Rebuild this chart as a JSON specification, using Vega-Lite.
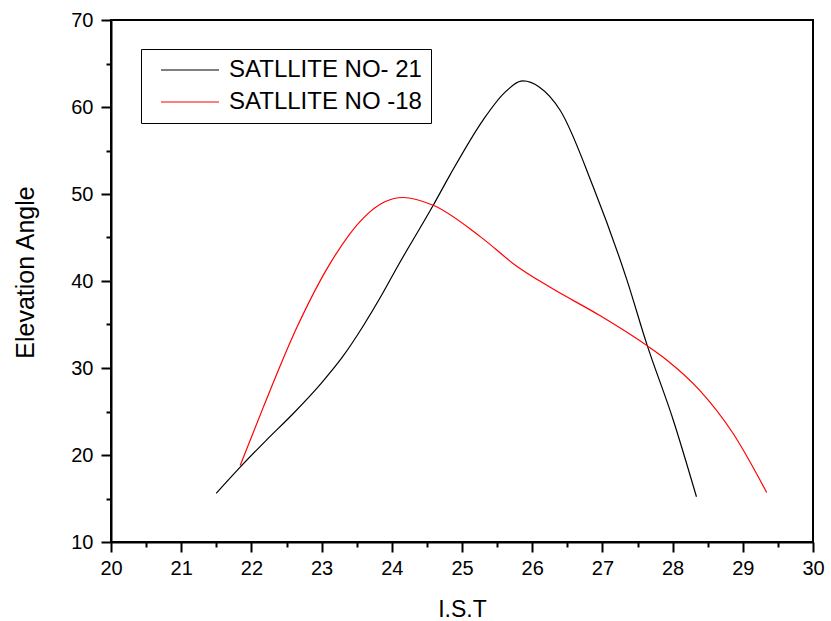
{
  "$schema": "https://vega.github.io/schema/vega-lite/v6.json",
  "width": 702,
  "height": 522,
  "autosize": {"type": "none"},
  "padding": {"left": 111, "top": 20, "right": 18, "bottom": 79},
  "background": "white",
  "config": {
    "font": "Liberation Sans",
    "view": {"stroke": "black", "strokeWidth": 2},
    "axis": {
      "grid": false,
      "labelFlush": false,
      "domainColor": "black",
      "domainWidth": 2,
      "tickColor": "black",
      "tickWidth": 2,
      "labelColor": "black",
      "titleColor": "black",
      "labelFont": "Liberation Sans",
      "titleFont": "Liberation Sans",
      "labelFontSize": 20,
      "titleFontSize": 23,
      "titleFontWeight": "normal"
    }
  },
  "data": {
    "values": [
      {"ist": 21.5, "elev": 15.6, "sat": "SATLLITE NO- 21"},
      {"ist": 21.84, "elev": 18.6, "sat": "SATLLITE NO- 21"},
      {"ist": 22.2, "elev": 21.6, "sat": "SATLLITE NO- 21"},
      {"ist": 22.6, "elev": 24.8, "sat": "SATLLITE NO- 21"},
      {"ist": 23.0, "elev": 28.3, "sat": "SATLLITE NO- 21"},
      {"ist": 23.3, "elev": 31.3, "sat": "SATLLITE NO- 21"},
      {"ist": 23.59, "elev": 34.8, "sat": "SATLLITE NO- 21"},
      {"ist": 23.85, "elev": 38.3, "sat": "SATLLITE NO- 21"},
      {"ist": 24.07, "elev": 41.5, "sat": "SATLLITE NO- 21"},
      {"ist": 24.59, "elev": 48.7, "sat": "SATLLITE NO- 21"},
      {"ist": 24.83, "elev": 52.2, "sat": "SATLLITE NO- 21"},
      {"ist": 25.3, "elev": 58.5, "sat": "SATLLITE NO- 21"},
      {"ist": 25.6, "elev": 61.6, "sat": "SATLLITE NO- 21"},
      {"ist": 25.87, "elev": 63.0, "sat": "SATLLITE NO- 21"},
      {"ist": 26.1, "elev": 62.3, "sat": "SATLLITE NO- 21"},
      {"ist": 26.4, "elev": 59.6, "sat": "SATLLITE NO- 21"},
      {"ist": 26.87, "elev": 50.8, "sat": "SATLLITE NO- 21"},
      {"ist": 27.35, "elev": 40.1, "sat": "SATLLITE NO- 21"},
      {"ist": 27.63, "elev": 32.8, "sat": "SATLLITE NO- 21"},
      {"ist": 28.01, "elev": 24.0, "sat": "SATLLITE NO- 21"},
      {"ist": 28.34, "elev": 15.2, "sat": "SATLLITE NO- 21"},
      {"ist": 21.84, "elev": 18.8, "sat": "SATLLITE NO -18"},
      {"ist": 22.17, "elev": 25.5, "sat": "SATLLITE NO -18"},
      {"ist": 22.65, "elev": 34.7, "sat": "SATLLITE NO -18"},
      {"ist": 23.12, "elev": 42.0, "sat": "SATLLITE NO -18"},
      {"ist": 23.59, "elev": 47.2, "sat": "SATLLITE NO -18"},
      {"ist": 23.9, "elev": 49.1, "sat": "SATLLITE NO -18"},
      {"ist": 24.16, "elev": 49.6, "sat": "SATLLITE NO -18"},
      {"ist": 24.59, "elev": 48.7, "sat": "SATLLITE NO -18"},
      {"ist": 25.26, "elev": 45.1, "sat": "SATLLITE NO -18"},
      {"ist": 25.78, "elev": 41.7, "sat": "SATLLITE NO -18"},
      {"ist": 26.25, "elev": 39.3, "sat": "SATLLITE NO -18"},
      {"ist": 26.97, "elev": 36.0, "sat": "SATLLITE NO -18"},
      {"ist": 27.63, "elev": 32.6, "sat": "SATLLITE NO -18"},
      {"ist": 27.92, "elev": 30.9, "sat": "SATLLITE NO -18"},
      {"ist": 28.39, "elev": 27.4, "sat": "SATLLITE NO -18"},
      {"ist": 28.86, "elev": 22.5, "sat": "SATLLITE NO -18"},
      {"ist": 29.34, "elev": 15.7, "sat": "SATLLITE NO -18"}
    ]
  },
  "layer": [
    {
      "mark": {"type": "line", "interpolate": "monotone", "strokeWidth": 1.2},
      "encoding": {
        "x": {
          "field": "ist", "type": "quantitative",
          "scale": {"domain": [20, 30], "nice": false, "zero": false},
          "axis": {
            "orient": "bottom",
            "values": [20, 21, 22, 23, 24, 25, 26, 27, 28, 29, 30],
            "tickSize": 10,
            "labelPadding": 6,
            "title": "I.S.T",
            "titlePadding": 20
          }
        },
        "y": {
          "field": "elev", "type": "quantitative",
          "scale": {"domain": [10, 70], "nice": false, "zero": false},
          "axis": {
            "orient": "left",
            "values": [10, 20, 30, 40, 50, 60, 70],
            "tickSize": 10,
            "labelPadding": 8,
            "title": "Elevation Angle",
            "titleFontSize": 25,
            "titleY": 252,
            "titlePadding": 32
          }
        },
        "color": {
          "field": "sat", "type": "nominal",
          "scale": {"domain": ["SATLLITE NO- 21", "SATLLITE NO -18"], "range": ["black", "red"]},
          "legend": {
            "title": null,
            "orient": "none",
            "legendX": 30,
            "legendY": 29,
            "strokeColor": "black",
            "fillColor": "white",
            "padding": 9,
            "symbolOffset": 10,
            "symbolType": "stroke",
            "symbolSize": 3364,
            "symbolStrokeWidth": 1.2,
            "clipHeight": 24,
            "labelFontSize": 24,
            "labelFont": "Liberation Sans",
            "labelColor": "black",
            "labelOffset": 9,
            "rowPadding": 8,
            "labelLimit": 400
          }
        }
      }
    },
    {
      "mark": {"type": "line", "opacity": 0},
      "encoding": {
        "x": {
          "field": "ist", "type": "quantitative",
          "axis": {
            "orient": "bottom",
            "values": [20.5, 21.5, 22.5, 23.5, 24.5, 25.5, 26.5, 27.5, 28.5, 29.5],
            "tickSize": 5,
            "labels": false,
            "domain": false,
            "title": null
          }
        },
        "y": {
          "field": "elev", "type": "quantitative",
          "axis": {
            "orient": "left",
            "values": [15, 25, 35, 45, 55, 65],
            "tickSize": 5,
            "labels": false,
            "domain": false,
            "title": null
          }
        },
        "detail": {"field": "sat"}
      }
    }
  ],
  "resolve": {"axis": {"x": "independent", "y": "independent"}}
}
